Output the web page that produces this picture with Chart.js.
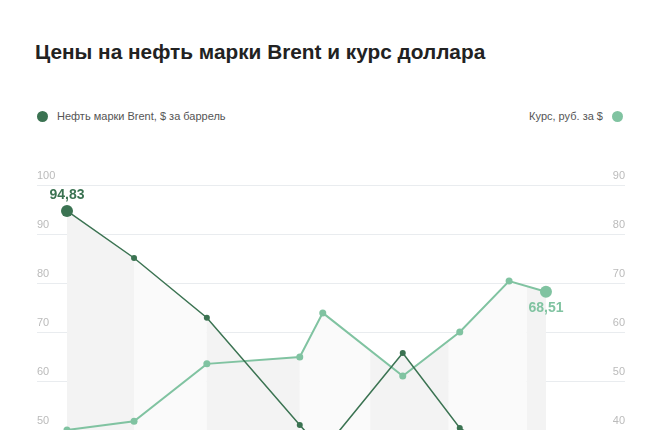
<!DOCTYPE html><html><head><meta charset="utf-8">
<script src="https://cdn.jsdelivr.net/npm/chart.js@4"></script>
<style>body{margin:0;background:#fff;font-family:"Helvetica","Liberation Sans",Arial,sans-serif;overflow:hidden;width:660px;height:430px;position:relative}
#t{position:absolute;left:35px;top:40px;font-size:20.8px;font-weight:bold;color:#222}
.lg{position:absolute;top:110px;font-size:11px;color:#555}
.d{display:inline-block;width:11px;height:11px;border-radius:50%;vertical-align:-2px}
canvas{position:absolute;left:0;top:0}</style></head><body>
<div id="t">Цены на нефть марки Brent и курс доллара</div>
<div class="lg" style="left:37px"><span class="d" style="background:#3b7352;margin-right:9px"></span>Нефть марки Brent, $ за баррель</div>
<div class="lg" style="right:37px">Курс, руб. за $<span class="d" style="background:#80c3a1;margin-left:9px"></span></div>
<div style="position:absolute;left:0;top:0;width:660px;height:490px"><canvas id="c"></canvas></div>
<script>
const xs=[0,14.0,29.2,48.6,53.4,70.1,82.0,92.3,100];
const brent=[94.7,85.1,72.9,51.0,45.7,65.7,50.4,44.5,43.0];
const rate=[40.0,41.8,53.5,54.9,63.9,51.0,60.0,70.4,68.2];
const leftTicks=[100,90,80,70,60,50];
const rightTicks=[90,80,70,60,50,40];
const bandEdges=[0,14,29.2,48.6,63.3,79.7,96,100];
const brentLabel="94,83", rateLabel="68,51";
const DARK="#3b7352",LIGHT="#80c3a1";
const plug={id:'p',
beforeDatasetsDraw(ch){const c=ch.ctx,a=ch.chartArea,x=ch.scales.x;
 c.save();c.beginPath();
 ch.data.datasets.forEach((ds,i)=>{const m=ch.getDatasetMeta(i).data;
  c.moveTo(m[0].x,a.bottom);m.forEach(p=>c.lineTo(p.x,p.y));c.lineTo(m[m.length-1].x,a.bottom);c.closePath();});
 c.clip('nonzero');
 for(let i=0;i<bandEdges.length-1;i++){c.fillStyle=i%2?'#fafafa':'#f3f3f3';
  const x0=x.getPixelForValue(bandEdges[i]),x1=x.getPixelForValue(bandEdges[i+1]);c.fillRect(x0,a.top,x1-x0,a.bottom-a.top);}
 c.restore();},
afterDraw(ch){const c=ch.ctx,a=ch.chartArea,yl=ch.scales.y,yr=ch.scales.y2;
 c.save();c.font='11px Helvetica, "Liberation Sans", Arial';c.fillStyle='#bbb';c.textBaseline='bottom';
 leftTicks.forEach(v=>{c.textAlign='left';c.fillText(v,a.left,yl.getPixelForValue(v)-4);});
 rightTicks.forEach(v=>{c.textAlign='right';c.fillText(v,a.right,yr.getPixelForValue(v)-4);});
 c.font='bold 14px Helvetica, "Liberation Sans", Arial';c.textAlign='center';
 const p0=ch.getDatasetMeta(0).data[0];c.fillStyle=DARK;c.fillText(brentLabel,p0.x,p0.y-9);
 const m1=ch.getDatasetMeta(1).data,pl=m1[m1.length-1];c.fillStyle=LIGHT;c.textBaseline='top';c.fillText(rateLabel,pl.x,pl.y+9);
 c.restore();}};
const rad=n=>Array.from({length:n},(_,i)=>i==0?6:3);
new Chart(document.getElementById('c'),{type:'line',
data:{datasets:[
 {data:xs.map((x,i)=>({x,y:brent[i]})),borderColor:DARK,backgroundColor:DARK,borderWidth:1.5,pointRadius:rad(xs.length),pointBorderWidth:0,yAxisID:'y',tension:0},
 {data:xs.map((x,i)=>({x,y:rate[i]})),borderColor:LIGHT,backgroundColor:LIGHT,borderWidth:2,pointRadius:xs.map((_,i)=>i==xs.length-1?6:3.5),pointBorderWidth:0,yAxisID:'y2',tension:0}]},
options:{responsive:true,maintainAspectRatio:false,animation:false,
 layout:{padding:{top:185,left:37,right:35,bottom:11}},
 plugins:{legend:{display:false},tooltip:{enabled:false}},
 scales:{x:{type:'linear',min:-6.26,max:116.5,display:false},
  y:{position:'left',min:40,max:100,ticks:{display:false,stepSize:10},border:{display:false},grid:{color:'#e9ecef',drawTicks:false}},
  y2:{position:'right',min:30,max:90,display:true,ticks:{display:false},border:{display:false},grid:{display:false,drawTicks:false}}}},
plugins:[plug]});
</script></body></html>
